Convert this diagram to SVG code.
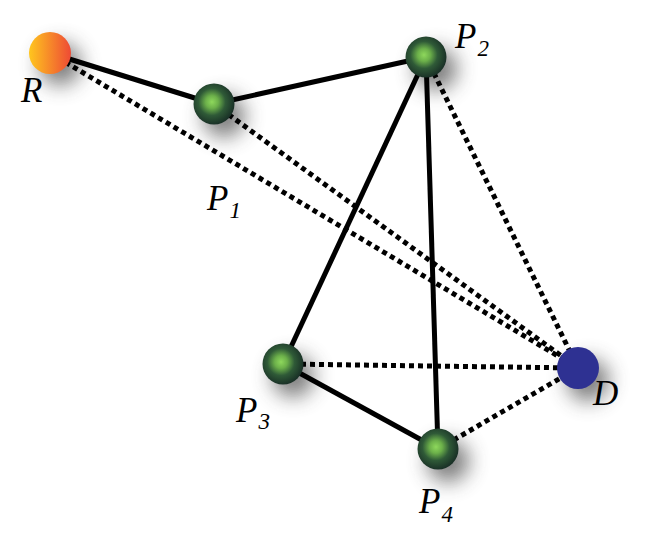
<svg xmlns="http://www.w3.org/2000/svg" width="664" height="533" viewBox="0 0 664 533">
<defs>
<filter id="sh" x="-100%" y="-100%" width="300%" height="300%">
<feGaussianBlur stdDeviation="10"/>
</filter>
<radialGradient id="green" cx="0.45" cy="0.45" r="0.55">
<stop offset="0" stop-color="#8ed85c"/>
<stop offset="0.28" stop-color="#6cb04a"/>
<stop offset="0.6" stop-color="#2f5a37"/>
<stop offset="1" stop-color="#1a3127"/>
</radialGradient>
<linearGradient id="orange" x1="0" y1="0" x2="1" y2="0">
<stop offset="0" stop-color="#ffc61e"/>
<stop offset="1" stop-color="#ee4a35"/>
</linearGradient>
</defs>
<style>
.solid{stroke:#000;stroke-width:5;fill:none}
.dot{stroke:#000;stroke-width:5;fill:none;stroke-dasharray:5 4}
.shadow{fill:#444;opacity:0.7;filter:url(#sh)}
.lbl{font-family:"Liberation Serif",serif;font-style:italic;font-size:35px;fill:#000}
.sub{font-size:23px}
.ball{fill:url(#green)}
</style>
<rect width="664" height="533" fill="#fff"/>
<g id="shadows">
<circle class="shadow" cx="60" cy="64" r="21"/>
<circle class="shadow" cx="224" cy="116" r="21"/>
<circle class="shadow" cx="436" cy="69" r="21"/>
<circle class="shadow" cx="293" cy="376" r="21"/>
<circle class="shadow" cx="448" cy="461" r="21"/>
<circle class="shadow" cx="588" cy="380" r="21"/>
</g>
<g id="connectors">
<line class="dot" x1="50" y1="53" x2="578" y2="368"/>
<line class="dot" x1="214" y1="104" x2="578" y2="368"/>
<line class="dot" x1="426" y1="57" x2="578" y2="368"/>
<line class="dot" x1="283" y1="364" x2="578" y2="368"/>
<line class="dot" x1="438" y1="449" x2="578" y2="368"/>
<line class="solid" x1="50" y1="53" x2="214" y2="104"/>
<line class="solid" x1="214" y1="104" x2="426" y2="57"/>
<line class="solid" x1="426" y1="57" x2="283" y2="364"/>
<line class="solid" x1="426" y1="57" x2="438" y2="449"/>
<line class="solid" x1="283" y1="364" x2="438" y2="449"/>
</g>
<g id="R">
<circle cx="50" cy="53" r="21" fill="url(#orange)"/>
<text class="lbl" x="21" y="102">R</text>
</g>
<g id="P1">
<circle class="ball" cx="214" cy="104" r="20.5"/>
<text class="lbl" x="207" y="210">P<tspan class="sub" dx="1" dy="8">1</tspan></text>
</g>
<g id="P2">
<circle class="ball" cx="426" cy="57" r="20.5"/>
<text class="lbl" x="455" y="48">P<tspan class="sub" dx="1" dy="8">2</tspan></text>
</g>
<g id="P3">
<circle class="ball" cx="283" cy="364" r="20.5"/>
<text class="lbl" x="236" y="422">P<tspan class="sub" dx="1" dy="7">3</tspan></text>
</g>
<g id="P4">
<circle class="ball" cx="438" cy="449" r="20.5"/>
<text class="lbl" x="419" y="513">P<tspan class="sub" dx="1" dy="9">4</tspan></text>
</g>
<g id="D">
<circle cx="578" cy="368" r="21" fill="#2e3192"/>
<text class="lbl" x="593" y="405">D</text>
</g>
</svg>
